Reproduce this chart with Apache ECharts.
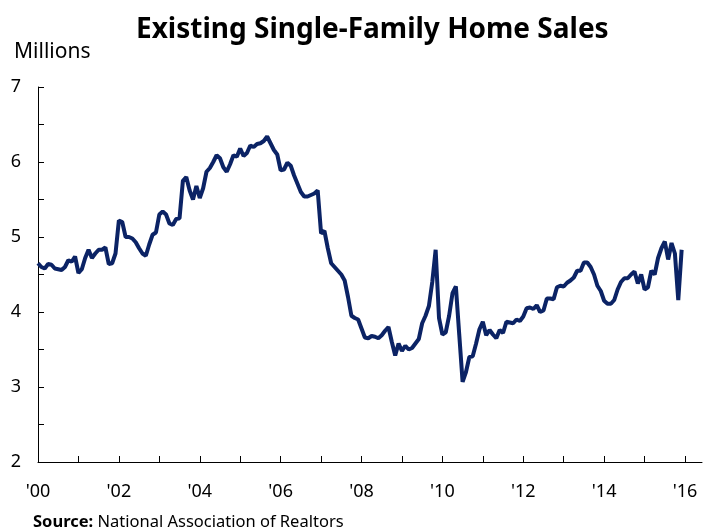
<!DOCTYPE html>
<html>
<head>
<meta charset="utf-8">
<script src="https://cdn.jsdelivr.net/npm/echarts@6/dist/echarts.min.js"></script>
<style>
  html, body { margin: 0; padding: 0; background: #fff; }
  #chart { width: 709px; height: 529px; }
</style>
</head>
<body>
<div id="chart"></div>
<script>
// monthly sales, Jan 2000 .. Dec 2015 (millions, SAAR)
var startYear = 2000;
var sales = [
  4.65, 4.60, 4.58, 4.64, 4.63, 4.58, 4.57, 4.56, 4.60, 4.69, 4.67, 4.74,
  4.52, 4.57, 4.72, 4.83, 4.72, 4.78, 4.83, 4.83, 4.86, 4.64, 4.65, 4.78,
  5.22, 5.20, 5.00, 5.00, 4.98, 4.93, 4.85, 4.78, 4.75, 4.90, 5.03, 5.06,
  5.30, 5.34, 5.30, 5.18, 5.16, 5.24, 5.25, 5.75, 5.80, 5.62, 5.50, 5.68,
  5.52, 5.65, 5.87, 5.92, 6.00, 6.09, 6.05, 5.93, 5.87, 5.97, 6.09, 6.07,
  6.18, 6.08, 6.12, 6.22, 6.20, 6.24, 6.25, 6.28, 6.34, 6.25, 6.16, 6.10,
  5.89, 5.90, 5.99, 5.95, 5.82, 5.71, 5.60, 5.54, 5.54, 5.56, 5.58, 5.62,
  5.05, 5.08, 4.85, 4.65, 4.60, 4.55, 4.50, 4.42, 4.20, 3.95, 3.92, 3.90,
  3.78, 3.66, 3.65, 3.68, 3.67, 3.65, 3.69, 3.75, 3.80, 3.60, 3.42, 3.58,
  3.48, 3.55, 3.50, 3.52, 3.58, 3.64, 3.85, 3.95, 4.08, 4.40, 4.83, 3.92,
  3.70, 3.73, 3.95, 4.25, 4.34, 3.70, 3.07, 3.20, 3.40, 3.41, 3.58, 3.77,
  3.87, 3.69, 3.76, 3.70, 3.65, 3.76, 3.72, 3.87, 3.86, 3.85, 3.90, 3.88,
  3.94, 4.05, 4.06, 4.04, 4.09, 4.00, 4.02, 4.18, 4.18, 4.17, 4.33, 4.35,
  4.34, 4.39, 4.42, 4.46, 4.55, 4.55, 4.66, 4.66, 4.60, 4.50, 4.35, 4.28,
  4.15, 4.11, 4.11, 4.16, 4.30, 4.40, 4.45, 4.45, 4.50, 4.54, 4.38, 4.50,
  4.30, 4.33, 4.55, 4.50, 4.72, 4.85, 4.94, 4.70, 4.92, 4.78, 4.16, 4.83
];
var yearTicks = [2000, 2001, 2002, 2003, 2004, 2005, 2006, 2007, 2008,
                 2009, 2010, 2011, 2012, 2013, 2014, 2015, 2016];
var yearLabels = [2000, 2002, 2004, 2006, 2008, 2010, 2012, 2014, 2016];
var yTicks = [2, 2.5, 3, 3.5, 4, 4.5, 5, 5.5, 6, 6.5, 7];
var yLabels = [2, 3, 4, 5, 6, 7];

var font = 'Noto Sans';
var chart = echarts.init(document.getElementById('chart'));

var points = sales.map(function (v, i) {
  return [startYear + i / 12, v];
});

chart.setOption({
  animation: false,
  textStyle: { fontFamily: font },
  title: [
    {
      text: 'Existing Single-Family Home Sales',
      left: 136, top: 16, padding: 0,
      textStyle: { fontFamily: font, fontSize: 28, fontWeight: 'bold', color: '#000' }
    },
    {
      text: 'Millions',
      left: 14, top: 42, padding: 0,
      textStyle: { fontFamily: font, fontSize: 21, fontWeight: 'normal', color: '#000' }
    },
    {
      text: '{b|Source:} National Association of Realtors',
      left: 33, top: 514, padding: 0,
      textStyle: {
        fontFamily: font, fontSize: 16.5, fontWeight: 'normal', color: '#000',
        rich: { b: { fontFamily: font, fontSize: 16.5, fontWeight: 'bold', color: '#000' } }
      }
    }
  ],
  grid: { left: 38, right: 7, top: 87, bottom: 67 },
  xAxis: {
    type: 'value',
    min: 2000,
    max: 2016.42,
    splitLine: { show: false },
    axisLine: { lineStyle: { color: '#000', width: 1 } },
    axisTick: { inside: true, length: 6, lineStyle: { color: '#000' }, customValues: yearTicks },
    axisLabel: {
      customValues: yearLabels,
      margin: 21,
      fontSize: 18,
      color: '#000',
      formatter: function (v) { return "'" + String(Math.round(v)).slice(2); }
    }
  },
  yAxis: {
    type: 'value',
    min: 2,
    max: 7,
    interval: 0.5,
    splitLine: { show: false },
    axisLine: { show: true, lineStyle: { color: '#000', width: 1 } },
    axisTick: { show: true, inside: true, length: 6, lineStyle: { color: '#000' }, customValues: yTicks },
    axisLabel: { customValues: yLabels, margin: 17, fontSize: 18, color: '#000' }
  },
  series: [{
    type: 'line',
    data: points,
    showSymbol: false,
    lineStyle: { color: '#0b2365', width: 4 },
    itemStyle: { color: '#0b2365' }
  }]
});
</script>
</body>
</html>
